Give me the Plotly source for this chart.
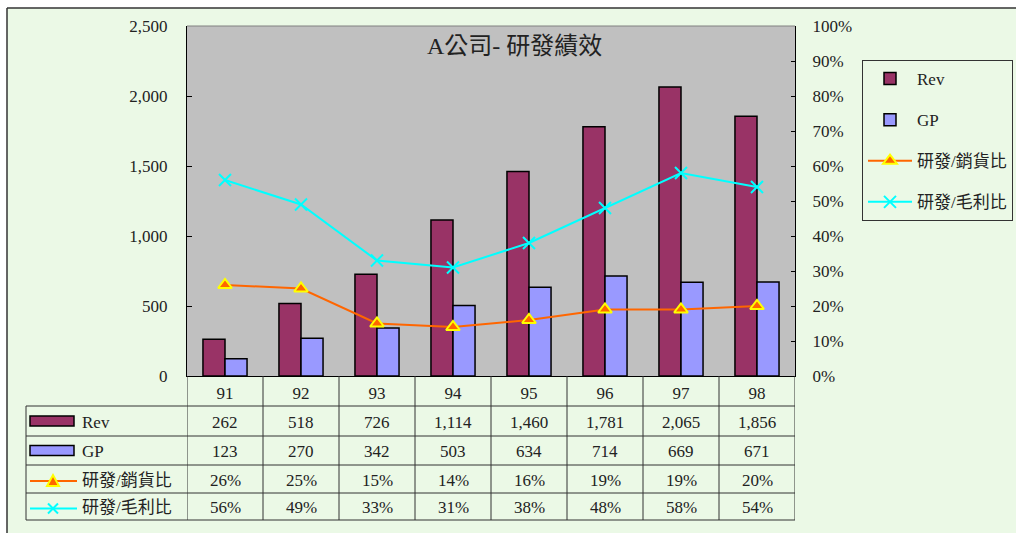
import plotly.graph_objects as go

# --- data ---
years = ["91", "92", "93", "94", "95", "96", "97", "98"]
rev = [262, 518, 726, 1114, 1460, 1781, 2065, 1856]
gp = [123, 270, 342, 503, 634, 714, 669, 671]
rd_sales = [0.26, 0.25, 0.15, 0.14, 0.16, 0.19, 0.19, 0.20]
rd_gp = [0.56, 0.49, 0.33, 0.31, 0.38, 0.48, 0.58, 0.54]
left_ticks = [0, 500, 1000, 1500, 2000, 2500]
right_ticks = [0.0, 0.1, 0.2, 0.3, 0.4, 0.5, 0.6, 0.7, 0.8, 0.9, 1.0]

W, H = 1016, 533
L, R, T, B = 187, 795, 26, 376   # plot area in pixels

FONT = "Liberation Serif, Noto Sans CJK TC, serif"
TXT = "#222222"
BG = "#EBF9E6"
MAROON = "#993366"
LILAC = "#9999FF"
ORANGE = "#FF6600"
CYAN = "#00FFFF"


def px(p):
    return (p - L) / (R - L)


def py(p):
    return (B - p) / (B - T)


fig = go.Figure()
fig.add_bar(x=years, y=rev, name="Rev", marker=dict(color=MAROON, line=dict(color="black", width=1.5)),
            legendgroup="a")
fig.add_bar(x=years, y=gp, name="GP", marker=dict(color=LILAC, line=dict(color="black", width=1.5)),
            legendgroup="b")
fig.add_scatter(x=years, y=rd_sales, yaxis="y2", name="研發/銷貨比", mode="lines+markers",
                line=dict(color=ORANGE, width=2),
                marker=dict(symbol="triangle-up", size=12, color=ORANGE, line=dict(color="#FFFF00", width=2)),
                legendgroup="c")
fig.add_scatter(x=years, y=rd_gp, yaxis="y2", name="研發/毛利比", mode="lines+markers",
                line=dict(color=CYAN, width=2),
                marker=dict(symbol="x-thin-open", size=12, color=CYAN, line=dict(color=CYAN, width=2)),
                legendgroup="d")

shapes = []
annotations = []

# outer frame: white strips at top/left, dark border line
shapes.append(dict(type="rect", xref="paper", yref="paper", x0=px(0), x1=px(W), y0=py(0), y1=py(8),
                   fillcolor="white", line_width=0, layer="above"))
shapes.append(dict(type="rect", xref="paper", yref="paper", x0=px(0), x1=px(7), y0=py(0), y1=py(H),
                   fillcolor="white", line_width=0, layer="above"))
shapes.append(dict(type="line", xref="paper", yref="paper", x0=px(7), x1=px(W), y0=py(8), y1=py(8),
                   line=dict(color="#333333", width=1.5)))
shapes.append(dict(type="line", xref="paper", yref="paper", x0=px(7), x1=px(7), y0=py(8), y1=py(H),
                   line=dict(color="#333333", width=1.5)))
# plot area frame
shapes.append(dict(type="line", xref="paper", yref="paper", x0=0, x1=1, y0=1, y1=1,
                   line=dict(color="#808080", width=1)))

# data table grid
row_edges = [376, 406, 436, 465, 493, 520]
for yy in row_edges[1:]:
    shapes.append(dict(type="line", xref="paper", yref="paper", x0=px(26), x1=1, y0=py(yy), y1=py(yy),
                       line=dict(color="#333333", width=1)))
shapes.append(dict(type="line", xref="paper", yref="paper", x0=px(26), x1=px(26), y0=py(406), y1=py(520),
                   line=dict(color="#333333", width=1)))
for k in range(len(years) + 1):
    shapes.append(dict(type="line", xref="x", yref="paper", x0=k - 0.5, x1=k - 0.5, y0=py(376), y1=py(520),
                       line=dict(color="#333333", width=1)))

row_centers = [(row_edges[i] + row_edges[i + 1]) / 2 for i in range(len(row_edges) - 1)]
table_rows = [
    [f"{v:,}" for v in rev],
    [f"{v:,}" for v in gp],
    [f"{round(v * 100)}%" for v in rd_sales],
    [f"{round(v * 100)}%" for v in rd_gp],
]
for r, cells in enumerate(table_rows):
    yc = py(row_centers[r + 1] + 1)
    for i, txt in enumerate(cells):
        annotations.append(dict(x=i, y=yc, xref="x", yref="paper", text=txt, showarrow=False,
                                xanchor="center", yanchor="middle",
                                font=dict(family=FONT, size=17, color=TXT)))

# legend keys in the table's first column
names = ["Rev", "GP", "研發/銷貨比", "研發/毛利比"]
for r, nm in enumerate(names):
    yc = row_centers[r + 1]
    annotations.append(dict(x=px(80), y=py(yc + 1), xref="paper", yref="paper", text=nm, showarrow=False,
                            xanchor="left", yanchor="middle", font=dict(family=FONT, size=17, color=TXT)))
shapes.append(dict(type="rect", xref="paper", yref="paper", x0=px(30), x1=px(74),
                   y0=py(row_centers[1] - 5), y1=py(row_centers[1] + 5),
                   fillcolor=MAROON, line=dict(color="black", width=1.5)))
shapes.append(dict(type="rect", xref="paper", yref="paper", x0=px(30), x1=px(74),
                   y0=py(row_centers[2] - 5), y1=py(row_centers[2] + 5),
                   fillcolor=LILAC, line=dict(color="black", width=1.5)))
yo = row_centers[3] + 2
shapes.append(dict(type="line", xref="paper", yref="paper", x0=px(30), x1=px(77), y0=py(yo), y1=py(yo),
                   line=dict(color=ORANGE, width=2)))
tri = f"M {px(47)},{py(yo + 5)} L {px(59)},{py(yo + 5)} L {px(53)},{py(yo - 6)} Z"
shapes.append(dict(type="path", xref="paper", yref="paper", path=tri, fillcolor=ORANGE,
                   line=dict(color="#FFFF00", width=2)))
yc2 = row_centers[4] + 2
shapes.append(dict(type="line", xref="paper", yref="paper", x0=px(30), x1=px(77), y0=py(yc2), y1=py(yc2),
                   line=dict(color=CYAN, width=2)))
for d in (1, -1):
    shapes.append(dict(type="line", xref="paper", yref="paper", x0=px(48), x1=px(58),
                       y0=py(yc2 - 5 * d), y1=py(yc2 + 5 * d), line=dict(color=CYAN, width=2)))

# title inside the plot area
annotations.append(dict(x=px(514), y=py(46), xref="paper", yref="paper", text="A公司- 研發績效",
                        showarrow=False, xanchor="center", yanchor="middle",
                        font=dict(family=FONT, size=24, color=TXT)))

fig.update_layout(
    width=W, height=H,
    margin=dict(l=L, r=W - R, t=T, b=H - B, pad=0, autoexpand=False),
    paper_bgcolor=BG, plot_bgcolor="#C0C0C0",
    font=dict(family=FONT, size=17, color=TXT),
    barmode="group", bargap=0.42, bargroupgap=0,
    showlegend=True,
    legend=dict(x=px(862), y=py(60), xanchor="left", yanchor="top",
                bgcolor=BG, bordercolor="#333333", borderwidth=1,
                font=dict(family=FONT, size=17, color=TXT), tracegroupgap=16,
                itemwidth=44),
    xaxis=dict(type="category", range=[-0.5, 7.5], showline=True, linecolor="black", linewidth=1,
               ticks="", showgrid=False, tickfont=dict(size=17), ticklabelstandoff=2),
    yaxis=dict(range=[0, 2500], tickvals=left_ticks, tickformat=",d", showline=True, linecolor="black",
               linewidth=1, ticks="inside", ticklen=5, tickcolor="black", showgrid=False, zeroline=False,
               ticklabelstandoff=15),
    yaxis2=dict(range=[0, 1], tickvals=right_ticks, tickformat=".0%", overlaying="y", side="right",
                showline=True, linecolor="black", linewidth=1, ticks="inside", ticklen=4, tickcolor="black",
                showgrid=False, zeroline=False, ticklabelstandoff=13),
    shapes=shapes,
    annotations=annotations,
)

fig.write_html("out.html")
